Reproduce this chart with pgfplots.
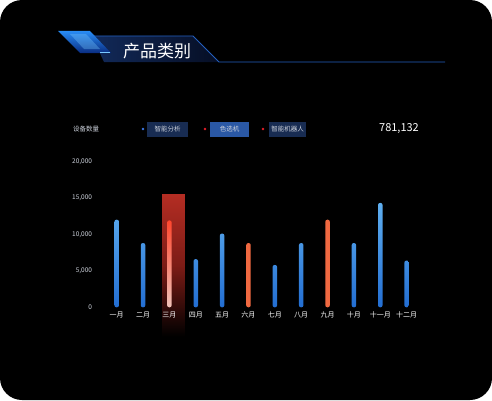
\documentclass[border=0pt]{standalone}
\usepackage{fontspec}
\setmainfont{Noto Sans CJK SC}
\usepackage{pgfplots}
\pgfplotsset{compat=1.18}
\definecolor{barblueA}{RGB}{95,175,240}
\definecolor{barblueB}{RGB}{35,110,210}
\definecolor{barorange}{RGB}{240,105,65}
\definecolor{barredA}{RGB}{255,70,45}
\definecolor{barredB}{RGB}{240,195,185}
\definecolor{hilite}{RGB}{180,45,35}
\definecolor{hiliteM}{RGB}{125,28,22}
\definecolor{navy}{RGB}{18,42,90}
\definecolor{navyD}{RGB}{6,14,36}
\definecolor{lineblue}{RGB}{35,95,190}
\definecolor{decoA}{RGB}{40,140,245}
\definecolor{decoB}{RGB}{10,45,130}
\definecolor{decoC}{RGB}{120,200,255}
\definecolor{dotblue}{RGB}{60,120,230}
\definecolor{dotred}{RGB}{230,30,40}
\definecolor{boxA}{RGB}{24,44,82}
\definecolor{boxB}{RGB}{42,88,165}
\definecolor{txtgrey}{RGB}{205,210,220}

\begin{document}
\begin{tikzpicture}[x=1pt,y=1pt]
\path[use as bounding box] (0,0) rectangle (492,400);
\fill[white] (0,0) rectangle (492,400);
\fill[black, rounded corners=22pt] (0,0) rectangle (492,400);

% title banner
\shade[left color=navy, right color=navyD] (92,364) -- (193,364) -- (219,338) -- (104,338) -- cycle;
\draw[lineblue, line width=0.8pt] (92,364) -- (193,364) -- (219,338) -- (445,338);
\shade[top color=decoA, bottom color=decoB] (58,369) -- (90,369) -- (111,347) -- (80,347) -- cycle;
\fill[decoC, opacity=0.35] (70,366) -- (86,366) -- (100,351) -- (84,351) -- cycle;
\draw[decoC, line width=0.6pt] (100,347.5) -- (110,347.5);
\node[white, font=\fontsize{17}{18}\selectfont] at (157,349) {产品类别};

% legend row
\node[txtgrey, font=\fontsize{6.5}{7}\selectfont] at (86,271) {设备数量};
\fill[dotblue] (143,271) circle (1.4);
\fill[boxA] (147,263) rectangle (188,278);
\node[txtgrey, font=\fontsize{6.5}{7}\selectfont] at (167.5,271) {智能分析};
\fill[dotred] (205,271) circle (1.4);
\fill[boxB] (210,263) rectangle (249,278);
\node[txtgrey, font=\fontsize{6.5}{7}\selectfont] at (229.5,271) {色选机};
\fill[dotred] (263,271) circle (1.4);
\fill[boxA] (269,263) rectangle (306,278);
\node[txtgrey, font=\fontsize{6.5}{7}\selectfont] at (287.5,271) {智能机器人};
\node[white, font=\fontsize{11}{12}\selectfont] at (399,271) {781,132};

\begin{axis}[
  at={(95.6pt,92.7pt)}, anchor=south west,
  scale only axis, width=337.4pt, height=146pt,
  xmin=-0.8, xmax=12, ymin=0, ymax=20000,
  clip=false, axis on top,
  axis lines=left,
  axis line style={draw=none},
  tick style={draw=none},
  xtick={0,...,11},
  xticklabels={一月,二月,三月,四月,五月,六月,七月,八月,九月,十月,十一月,十二月},
  ytick={0,5000,10000,15000,20000},
  scaled y ticks=false,
  /pgf/number format/assume math mode=true,
  /pgf/number format/1000 sep={,},
  xticklabel style={white, font=\fontsize{7}{8}\selectfont, yshift=-1pt},
  yticklabel style={txtgrey, font=\fontsize{6.5}{7}\selectfont},
  major tick length=0pt,
]
% highlight column behind March
\addplot[draw=none, top color=hilite, bottom color=black, middle color=hiliteM]
  coordinates {(1.72,-4000) (1.72,15500) (2.59,15500) (2.59,-4000)} -- cycle;
% blue bars
\addplot[ybar, bar width=4.5pt, bar shift=0pt, draw=none, rounded corners=2pt,
  top color=barblueA, bottom color=barblueB]
  coordinates {(0,12000) (1,8800) (3,6600) (4,10100) (6,5800) (7,8800) (9,8800) (10,14300) (11,6400)};
% orange bars
\addplot[ybar, bar width=4.5pt, bar shift=0pt, draw=none, rounded corners=2pt,
  top color=barorange, bottom color=barorange]
  coordinates {(5,8800) (8,12000)};
% red bar (March)
\addplot[ybar, bar width=4.5pt, bar shift=0pt, draw=none, rounded corners=2pt,
  top color=barredA, bottom color=barredB]
  coordinates {(2,11900)};
\end{axis}
\end{tikzpicture}
\end{document}
